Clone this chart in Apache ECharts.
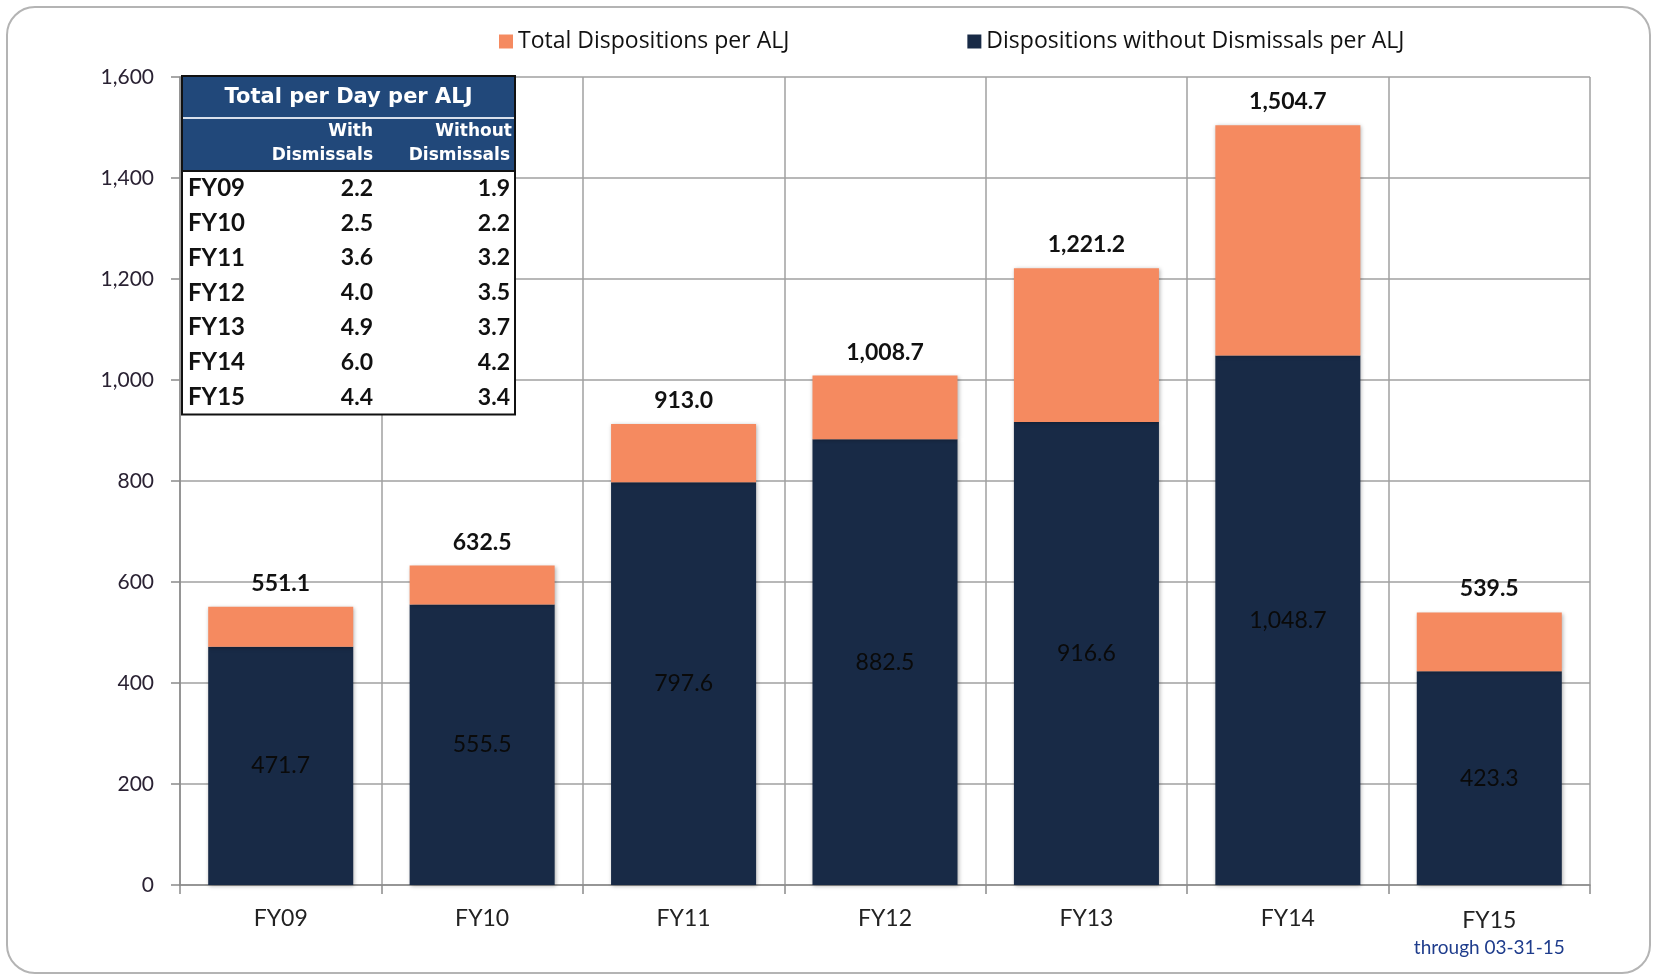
<!DOCTYPE html>
<html>
<head>
<meta charset="utf-8">
<script src="https://cdn.jsdelivr.net/npm/echarts@6/dist/echarts.min.js"></script>
<style>
  html, body { margin: 0; padding: 0; background: #fff; }
  #chart { width: 1656px; height: 978px; }
</style>
</head>
<body>
<div id="chart"></div>
<script>
// chart data
var categories = ['FY09', 'FY10', 'FY11', 'FY12', 'FY13', 'FY14', 'FY15'];
var totalPerAlj = [551.1, 632.5, 913.0, 1008.7, 1221.2, 1504.7, 539.5];
var withoutDismissals = [471.7, 555.5, 797.6, 882.5, 916.6, 1048.7, 423.3];
var yTicks = [0, 200, 400, 600, 800, 1000, 1200, 1400, 1600];

// inset table
var tableYears = ['FY09', 'FY10', 'FY11', 'FY12', 'FY13', 'FY14', 'FY15'];
var perDayWith = ['2.2', '2.5', '3.6', '4.0', '4.9', '6.0', '4.4'];
var perDayWithout = ['1.9', '2.2', '3.2', '3.5', '3.7', '4.2', '3.4'];

var dismissalsPart = totalPerAlj.map((v, i) => Math.round((v - withoutDismissals[i]) * 10) / 10);

function fmt(v) {
    return Number(v).toLocaleString('en-US', {minimumFractionDigits: 1, maximumFractionDigits: 1});
}

var FONT = 'Lato';
var ORANGE = '#F58A60';
var NAVY = '#182A46';
var HEAD = '#21487A';

// build the table out of graphic elements
var tx = 182, ty = 76, tw = 333;
var headH = 42, subH = 53, rowH = 34.8;
var col1 = 373 - tx, col2 = 510 - tx;
var headFont = 'bold 21px "DejaVu Sans"';
var subFont = 'bold 17px "DejaVu Sans"';
var tableChildren = [
    {type: 'rect', shape: {x: 0, y: 0, width: tw, height: headH + subH + rowH * 7}, style: {fill: '#fff', stroke: '#111', lineWidth: 2}},
    {type: 'rect', shape: {x: 1, y: 1, width: tw - 2, height: headH + subH - 1}, style: {fill: HEAD}},
    {type: 'line', shape: {x1: 1, y1: headH, x2: tw - 1, y2: headH}, style: {stroke: '#d8e0ec', lineWidth: 2}},
    {type: 'line', shape: {x1: 0, y1: headH + subH, x2: tw, y2: headH + subH}, style: {stroke: '#111', lineWidth: 2}},
    {type: 'text', x: tw / 2, y: headH / 2 + 1, style: {text: 'Total per Day per ALJ', fill: '#fff', font: headFont, align: 'center', verticalAlign: 'middle'}},
    {type: 'text', x: col1, y: headH + 14, style: {text: 'With', fill: '#fff', font: subFont, align: 'right', verticalAlign: 'middle'}},
    {type: 'text', x: col1, y: headH + 38, style: {text: 'Dismissals', fill: '#fff', font: subFont, align: 'right', verticalAlign: 'middle'}},
    {type: 'text', x: col2 + 2, y: headH + 14, style: {text: 'Without', fill: '#fff', font: subFont, align: 'right', verticalAlign: 'middle'}},
    {type: 'text', x: col2, y: headH + 38, style: {text: 'Dismissals', fill: '#fff', font: subFont, align: 'right', verticalAlign: 'middle'}}
];
tableYears.forEach(function (yr, i) {
    var cy = headH + subH + rowH * i + rowH / 2;
    tableChildren.push(
        {type: 'text', x: 6, y: cy, style: {text: yr, fill: '#111', font: 'bold 24px ' + FONT, align: 'left', verticalAlign: 'middle'}},
        {type: 'text', x: col1, y: cy, style: {text: perDayWith[i], fill: '#111', font: 'bold 23px ' + FONT, align: 'right', verticalAlign: 'middle'}},
        {type: 'text', x: col2, y: cy, style: {text: perDayWithout[i], fill: '#111', font: 'bold 23px ' + FONT, align: 'right', verticalAlign: 'middle'}}
    );
});
// keep the table above the grid lines
tableChildren.forEach(function (c, i) { c.z = 100 + i; });

var myChart = echarts.init(document.getElementById('chart'));
var option = {
    animation: false,
    textStyle: {fontFamily: FONT},
    legend: {
        left: 494,
        top: 25,
        itemWidth: 14,
        itemHeight: 14,
        itemGap: 178,
        icon: 'rect',
        textStyle: {fontSize: 23, color: '#111', fontFamily: 'Open Sans'},
        data: ['Total Dispositions per ALJ', 'Dispositions without Dismissals per ALJ']
    },
    grid: {left: 180, right: 66, top: 77, bottom: 93},
    xAxis: {
        type: 'category',
        data: categories,
        axisLine: {lineStyle: {color: '#8a8a8a', width: 1.5}},
        axisTick: {show: true, interval: 0, length: 9, lineStyle: {color: '#8a8a8a', width: 1.5}},
        splitLine: {show: true, interval: 0, lineStyle: {color: '#a0a0a0', width: 1.5}},
        axisLabel: {
            interval: 0,
            margin: 22,
            fontSize: 23,
            color: '#222',
            formatter: function (v) {
                return v === 'FY15' ? '{a|FY15}\n{b|through 03-31-15}' : v;
            },
            rich: {
                a: {fontSize: 23, color: '#222', fontFamily: FONT, lineHeight: 28},
                b: {fontSize: 19, color: '#1E3C8C', fontFamily: FONT, lineHeight: 26}
            }
        }
    },
    yAxis: {
        type: 'value',
        min: yTicks[0],
        max: yTicks[yTicks.length - 1],
        interval: 200,
        axisLine: {show: true, lineStyle: {color: '#8a8a8a', width: 1.5}},
        axisTick: {show: true, length: 9, lineStyle: {color: '#8a8a8a', width: 1.5}},
        splitLine: {lineStyle: {color: '#a0a0a0', width: 1.5}},
        axisLabel: {
            margin: 26,
            fontSize: 21,
            color: '#2a2233',
            formatter: function (v) { return v.toLocaleString('en-US'); }
        }
    },
    series: [
        {
            name: 'Dispositions without Dismissals per ALJ',
            type: 'bar',
            stack: 'a',
            barCategoryGap: '28%',
            data: withoutDismissals,
            itemStyle: {color: NAVY, shadowBlur: 4, shadowColor: 'rgba(0,0,0,0.3)', shadowOffsetX: 1, shadowOffsetY: 1},
            label: {
                show: true,
                position: 'inside',
                color: '#0a0a0a',
                fontSize: 23,
                fontFamily: FONT,
                formatter: function (p) { return fmt(p.value); }
            }
        },
        {
            name: 'Total Dispositions per ALJ',
            type: 'bar',
            stack: 'a',
            data: dismissalsPart,
            itemStyle: {color: ORANGE, shadowBlur: 4, shadowColor: 'rgba(0,0,0,0.3)', shadowOffsetX: 1, shadowOffsetY: 1},
            label: {
                show: true,
                position: 'top',
                distance: 12,
                color: '#111',
                fontSize: 23,
                fontWeight: 'bold',
                fontFamily: FONT,
                formatter: function (p) { return fmt(totalPerAlj[p.dataIndex]); }
            }
        }
    ],
    graphic: [
        {
            type: 'rect',
            shape: {x: 7, y: 7, width: 1643, height: 966, r: 28},
            style: {fill: 'none', stroke: '#b4b4b4', lineWidth: 2},
            silent: true,
            z: 0
        },
        {
            type: 'group',
            x: tx,
            y: ty,
            z: 100,
            children: tableChildren
        }
    ]
};
myChart.setOption(option);
</script>
</body>
</html>
